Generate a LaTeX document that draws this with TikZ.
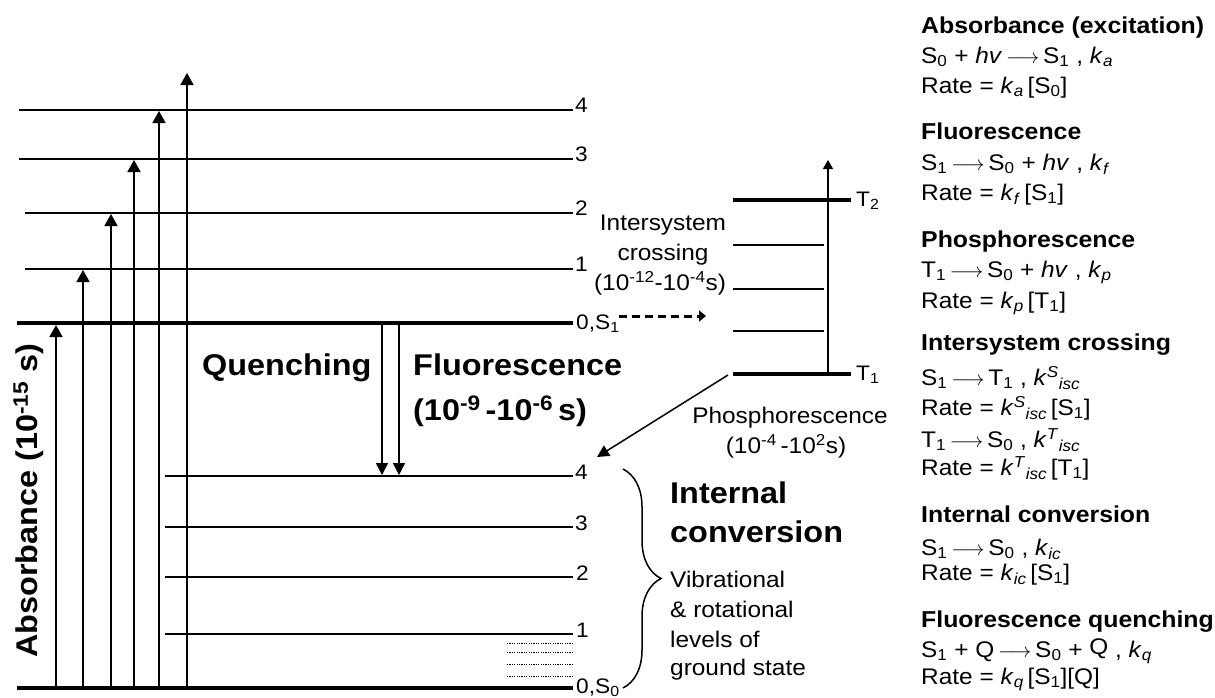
\documentclass[tikz,border=0pt]{standalone}
\usepackage{fontspec}
\setmainfont{Liberation Sans}[FakeStretch=1.08]
\usetikzlibrary{arrows.meta,decorations.pathreplacing}
\newcommand{\myarr}{\,$\longrightarrow$\,}
\begin{document}
\begin{tikzpicture}[x=1pt,y=-1pt,
  lvl/.style={line width=1.8pt},
  thicklvl/.style={line width=4.2pt},
  absarrow/.style={line width=1.7pt,-{Triangle[width=13pt,length=12pt]}},
  downarrow/.style={line width=1.5pt,-{Triangle[width=12pt,length=12pt]}},
  tarrow/.style={line width=1.3pt,-{Triangle[width=10pt,length=9pt]}},
  dasharrow/.style={line width=3pt,dash pattern=on 8pt off 5pt,-{Triangle[width=11pt,length=7pt]}},
  dotlvl/.style={line width=0.9pt,dash pattern=on 1.2pt off 1.2pt},
  txt/.style={inner sep=0pt,anchor=base west,font=\fontsize{22.6}{27}\selectfont},
  ctxt/.style={inner sep=0pt,anchor=base,font=\fontsize{22.6}{27}\selectfont},
  ttl/.style={inner sep=0pt,anchor=base west,font=\fontsize{23}{28}\selectfont\bfseries},
  bigbold/.style={inner sep=0pt,anchor=base west,font=\fontsize{30}{36}\selectfont\bfseries},
  lbl/.style={inner sep=0pt,anchor=base west,font=\fontsize{21}{25}\selectfont}]
\useasboundingbox (0,0) rectangle (1215,697);

% ---------- upper (S1) levels ----------
\coordinate (u4a) at (19,110);  \coordinate (u4b) at (573,110);
\coordinate (u3a) at (19,159);  \coordinate (u3b) at (573,159);
\coordinate (u2a) at (25,213);  \coordinate (u2b) at (573,213);
\coordinate (u1a) at (25,269);  \coordinate (u1b) at (573,269);
\coordinate (u0a) at (17,323);  \coordinate (u0b) at (573,323);
\draw[lvl] (u4a) -- (u4b);
\draw[lvl] (u3a) -- (u3b);
\draw[lvl] (u2a) -- (u2b);
\draw[lvl] (u1a) -- (u1b);
\draw[thicklvl] (u0a) -- (u0b);
\node[lbl] (lu4) at (575,112) {4};
\node[lbl] (lu3) at (575,161) {3};
\node[lbl] (lu2) at (575,215) {2};
\node[lbl] (lu1) at (575,271) {1};
\node[lbl] (lu0) at (576,329) {0,S\textsubscript{1}};

% ---------- lower (S0) levels ----------
\coordinate (d4a) at (165,476);  \coordinate (d4b) at (573,476);
\coordinate (d3a) at (165,527);  \coordinate (d3b) at (573,527);
\coordinate (d2a) at (165,577);  \coordinate (d2b) at (573,577);
\coordinate (d1a) at (165,634);  \coordinate (d1b) at (573,634);
\coordinate (d0a) at (17,688);   \coordinate (d0b) at (573,688);
\draw[lvl] (d4a) -- (d4b);
\draw[lvl] (d3a) -- (d3b);
\draw[lvl] (d2a) -- (d2b);
\draw[lvl] (d1a) -- (d1b);
\draw[line width=4.6pt] (d0a) -- (d0b);
\node[lbl] (ld4) at (575,479) {4};
\node[lbl] (ld3) at (575,530) {3};
\node[lbl] (ld2) at (576,580) {2};
\node[lbl] (ld1) at (576,637) {1};
\node[lbl] (ld0) at (576,693) {0,S\textsubscript{0}};
% dotted sub-levels
\foreach \yy/\nm in {643/a,652/b,664/c,676/d}{
  \coordinate (dot\nm1) at (507,\yy); \coordinate (dot\nm2) at (574,\yy);
  \draw[dotlvl] (dot\nm1) -- (dot\nm2);
}

% ---------- absorption arrows ----------
\coordinate (a1s) at (56,686);  \coordinate (a1e) at (56,325);
\coordinate (a2s) at (83,686);  \coordinate (a2e) at (83,270);
\coordinate (a3s) at (111,686); \coordinate (a3e) at (111,214);
\coordinate (a4s) at (134,686); \coordinate (a4e) at (134,160);
\coordinate (a5s) at (159,686); \coordinate (a5e) at (159,111);
\coordinate (a6s) at (187,686); \coordinate (a6e) at (187,73);
\draw[absarrow] (a1s) -- (a1e);
\draw[absarrow] (a2s) -- (a2e);
\draw[absarrow] (a3s) -- (a3e);
\draw[absarrow] (a4s) -- (a4e);
\draw[absarrow] (a5s) -- (a5e);
\draw[absarrow] (a6s) -- (a6e);

\node[inner sep=0pt,anchor=base west,rotate=90,font=\fontsize{30}{36}\selectfont\bfseries]
  (abslbl) at (37,658) {Absorbance (10\textsuperscript{-15} s)};

% ---------- quenching / fluorescence ----------
\coordinate (q1s) at (382,325); \coordinate (q1e) at (382,475);
\coordinate (q2s) at (399,325); \coordinate (q2e) at (399,475);
\draw[downarrow] (q1s) -- (q1e);
\draw[downarrow] (q2s) -- (q2e);
\node[bigbold] (quench) at (202,375) {Quenching};
\node[bigbold] (fluor) at (413,375) {Fluorescence};
\node[bigbold] (fluort) at (413,420) {(10\textsuperscript{-9}\,-10\textsuperscript{-6}\,s)};

% ---------- triplet levels ----------
\coordinate (t2a) at (733,200); \coordinate (t2b) at (851,200);
\coordinate (tc1a) at (733,245); \coordinate (tc1b) at (824,245);
\coordinate (tc2a) at (733,289); \coordinate (tc2b) at (824,289);
\coordinate (tc3a) at (733,331); \coordinate (tc3b) at (824,331);
\coordinate (t1a) at (733,374); \coordinate (t1b) at (851,374);
\draw[thicklvl] (t2a) -- (t2b);
\draw[lvl] (tc1a) -- (tc1b);
\draw[lvl] (tc2a) -- (tc2b);
\draw[lvl] (tc3a) -- (tc3b);
\draw[thicklvl] (t1a) -- (t1b);
\node[lbl] (lt2) at (856,206) {T\textsubscript{2}};
\node[lbl] (lt1) at (856,380) {T\textsubscript{1}};
\coordinate (tvs) at (828,374); \coordinate (tve) at (828,160);
\draw[tarrow] (tvs) -- (tve);

% intersystem crossing
\coordinate (iscs) at (619,316); \coordinate (isce) at (706,316);
\draw[dasharrow] (iscs) -- (isce);
\node[ctxt] (isc1) at (663,230) {Intersystem};
\node[ctxt] (isc2) at (663,260) {crossing};
\node[ctxt] (isc3) at (660,290) {(10\textsuperscript{-12}-10\textsuperscript{-4}s)};

% phosphorescence
\coordinate (phs) at (728,375); \coordinate (phe) at (597,457);
\draw[downarrow] (phs) -- (phe);
\node[ctxt] (ph1) at (790,423) {Phosphorescence};
\node[ctxt] (ph2) at (786,453) {(10\textsuperscript{-4}\,-10\textsuperscript{2}s)};

% internal conversion
\coordinate (brt) at (623,469); \coordinate (brb) at (623,688);
\draw[line width=1.5pt,decorate,decoration={brace,amplitude=38pt}] (brt) -- (brb);
\node[bigbold] (ic1) at (670,503) {Internal};
\node[bigbold] (ic2) at (670,542) {conversion};
\node[txt] (vr1) at (670,587) {Vibrational};
\node[txt] (vr2) at (670,617) {\& rotational};
\node[txt] (vr3) at (670,647) {levels of};
\node[txt] (vr4) at (670,675) {ground state};

% ---------- right column ----------
\node[ttl] (r1) at (921,33) {Absorbance (excitation)};
\node[txt] (r2) at (921,63) {S\textsubscript{0} + \textit{hv}\myarr S\textsubscript{1} , \textit{k}\textsubscript{\textit{a}}};
\node[txt] (r3) at (921,93) {Rate = \textit{k}\textsubscript{\textit{a}}\,[S\textsubscript{0}]};

\node[ttl] (r4) at (921,139) {Fluorescence};
\node[txt] (r5) at (921,170) {S\textsubscript{1}\myarr S\textsubscript{0} + \textit{hv} , \textit{k}\textsubscript{\textit{f}}};
\node[txt] (r6) at (921,200) {Rate = \textit{k}\textsubscript{\textit{f}}\,[S\textsubscript{1}]};

\node[ttl] (r7) at (921,247) {Phosphorescence};
\node[txt] (r8) at (921,277) {T\textsubscript{1}\myarr S\textsubscript{0} + \textit{hv} , \textit{k}\textsubscript{\textit{p}}};
\node[txt] (r9) at (921,308) {Rate = \textit{k}\textsubscript{\textit{p}}\,[T\textsubscript{1}]};

\node[ttl] (r10) at (921,350) {Intersystem crossing};
\node[txt] (r11) at (921,385) {S\textsubscript{1}\myarr T\textsubscript{1} , \textit{k}\textsuperscript{\textit{S}}\textsubscript{\textit{isc}}};
\node[txt] (r12) at (921,415) {Rate = \textit{k}\textsuperscript{\textit{S}}\textsubscript{\textit{isc}}\,[S\textsubscript{1}]};
\node[txt] (r13) at (921,447) {T\textsubscript{1}\myarr S\textsubscript{0} , \textit{k}\textsuperscript{\textit{T}}\textsubscript{\textit{isc}}};
\node[txt] (r14) at (921,475) {Rate = \textit{k}\textsuperscript{\textit{T}}\textsubscript{\textit{isc}}\,[T\textsubscript{1}]};

\node[ttl] (r15) at (921,522) {Internal conversion};
\node[txt] (r16) at (921,555) {S\textsubscript{1}\myarr S\textsubscript{0} , \textit{k}\textsubscript{\textit{ic}}};
\node[txt] (r17) at (921,580) {Rate = \textit{k}\textsubscript{\textit{ic}}\,[S\textsubscript{1}]};

\node[ttl] (r18) at (921,627) {Fluorescence quenching};
\node[txt] (r19) at (921,657) {S\textsubscript{1} + Q\myarr S\textsubscript{0} + \raisebox{3pt}{Q} , \textit{k}\textsubscript{\textit{q}}};
\node[txt] (r20) at (921,684) {Rate = \textit{k}\textsubscript{\textit{q}}\,[S\textsubscript{1}][Q]};
\end{tikzpicture}
\end{document}
